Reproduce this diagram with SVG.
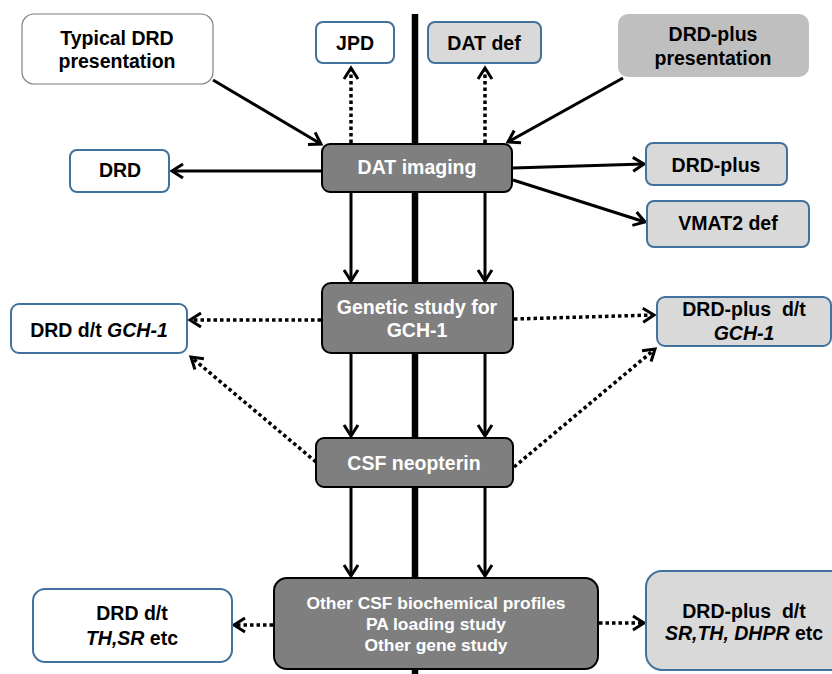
<svg xmlns="http://www.w3.org/2000/svg" width="832" height="674" viewBox="0 0 832 674">
<style>
text{font-family:"Liberation Sans",Arial,sans-serif;font-weight:bold;font-size:19.5px;text-anchor:middle;fill:#000}
.w{fill:#fff}
.dark{fill:#7f7f7f;stroke:#000;stroke-width:2}
.light{fill:#d9d9d9;stroke:#41719c;stroke-width:2}
.white{fill:#fff;stroke:#41719c;stroke-width:2}
.s{stroke:#000;stroke-width:3;fill:none;marker-end:url(#ah)}
.d{stroke:#000;stroke-width:3.5;fill:none;stroke-dasharray:3.5 3;marker-end:url(#ah)}
.i{font-style:italic}
.sm{font-size:17.4px}
</style>
<defs>
<marker id="ah" markerUnits="userSpaceOnUse" viewBox="-14 -9 18 18" markerWidth="18" markerHeight="18" refX="0" refY="0" orient="auto">
<path d="M-11,-7 L0,0 L-11,7" fill="none" stroke="#000" stroke-width="3"/>
</marker>
</defs>
<rect width="832" height="674" fill="#fff"/>
<line x1="415" y1="14" x2="415" y2="674" stroke="#000" stroke-width="6.5"/>
<g id="connectors">
<line class="s" x1="213" y1="80" x2="321" y2="144"/>
<line class="s" x1="623" y1="78" x2="508" y2="142"/>
<line class="s" x1="322" y1="171" x2="172" y2="171"/>
<line class="s" x1="513" y1="168" x2="644" y2="164"/>
<line class="s" x1="513" y1="180" x2="645" y2="222"/>
<line class="d" x1="351" y1="143" x2="351" y2="68"/>
<line class="d" x1="485" y1="143" x2="485" y2="68"/>
<line class="s" x1="351" y1="192" x2="351" y2="281"/>
<line class="s" x1="485" y1="192" x2="485" y2="281"/>
<line class="s" x1="351" y1="353" x2="351" y2="436"/>
<line class="s" x1="485" y1="353" x2="485" y2="436"/>
<line class="s" x1="351" y1="487" x2="351" y2="576"/>
<line class="s" x1="485" y1="487" x2="485" y2="576"/>
<line class="d" x1="321" y1="320" x2="190" y2="320"/>
<line class="d" x1="316" y1="462" x2="191" y2="357"/>
<line class="d" x1="514" y1="319" x2="654" y2="315"/>
<line class="d" x1="514" y1="467" x2="655" y2="349"/>
<line class="d" x1="273" y1="625" x2="234" y2="625"/>
<line class="d" x1="599" y1="623" x2="644" y2="623"/>
</g>
<g id="typical">
<rect x="22" y="14" width="191" height="70" rx="12" fill="#fff" stroke="#7f7f7f" stroke-width="1.2"/>
<text x="117" y="45">Typical DRD</text>
<text x="117" y="68">presentation</text>
</g>
<g id="jpd">
<rect class="white" x="316" y="22" width="78" height="41" rx="7"/>
<text x="355" y="50">JPD</text>
</g>
<g id="datdef">
<rect class="light" x="428" y="22" width="113" height="41" rx="7"/>
<text x="484" y="50">DAT def</text>
</g>
<g id="drdplus-pres">
<rect x="618" y="14" width="191" height="63" rx="10" fill="#bfbfbf"/>
<text x="713" y="41">DRD-plus</text>
<text x="713" y="65">presentation</text>
</g>
<g id="drd">
<rect class="white" x="70" y="150" width="99" height="42" rx="7"/>
<text x="120" y="177">DRD</text>
</g>
<g id="dat">
<rect class="dark" x="322" y="144" width="190" height="48" rx="8"/>
<text class="w" x="417" y="174">DAT imaging</text>
</g>
<g id="drdplus">
<rect class="light" x="646" y="143" width="141" height="42" rx="7"/>
<text x="716" y="172">DRD-plus</text>
</g>
<g id="vmat2">
<rect class="light" x="647" y="201" width="162" height="46" rx="7"/>
<text x="728" y="230">VMAT2 def</text>
</g>
<g id="genetic">
<rect class="dark" x="322" y="283" width="191" height="70" rx="9"/>
<text class="w" x="417" y="314">Genetic study for</text>
<text class="w" x="417" y="337">GCH-1</text>
</g>
<g id="drd-gch1">
<rect class="white" x="11" y="304" width="176" height="49" rx="8"/>
<text x="99" y="337">DRD d/t <tspan class="i">GCH-1</tspan></text>
</g>
<g id="drdplus-gch1">
<rect class="light" x="657" y="297" width="174" height="49" rx="8"/>
<text x="744" y="316">DRD-plus&#160; d/t</text>
<text x="744" y="340" class="i">GCH-1</text>
</g>
<g id="csf">
<rect class="dark" x="316" y="438" width="197" height="49" rx="8"/>
<text class="w" x="414" y="470">CSF neopterin</text>
</g>
<g id="other">
<rect class="dark" x="274" y="578" width="324" height="91" rx="13"/>
<text class="w sm" x="436" y="609">Other CSF biochemical profiles</text>
<text class="w sm" x="436" y="630">PA loading study</text>
<text class="w sm" x="436" y="651">Other gene study</text>
</g>
<g id="drd-th">
<rect class="white" x="33" y="589" width="199" height="73" rx="12"/>
<text x="132" y="620">DRD d/t</text>
<text x="132" y="645"><tspan class="i">TH,SR</tspan> etc</text>
</g>
<g id="drdplus-sr">
<rect class="light" x="646" y="571" width="200" height="99" rx="16"/>
<text x="744" y="618">DRD-plus&#160; d/t</text>
<text x="744" y="640"><tspan class="i">SR,TH, DHPR</tspan> etc</text>
</g>
</svg>
